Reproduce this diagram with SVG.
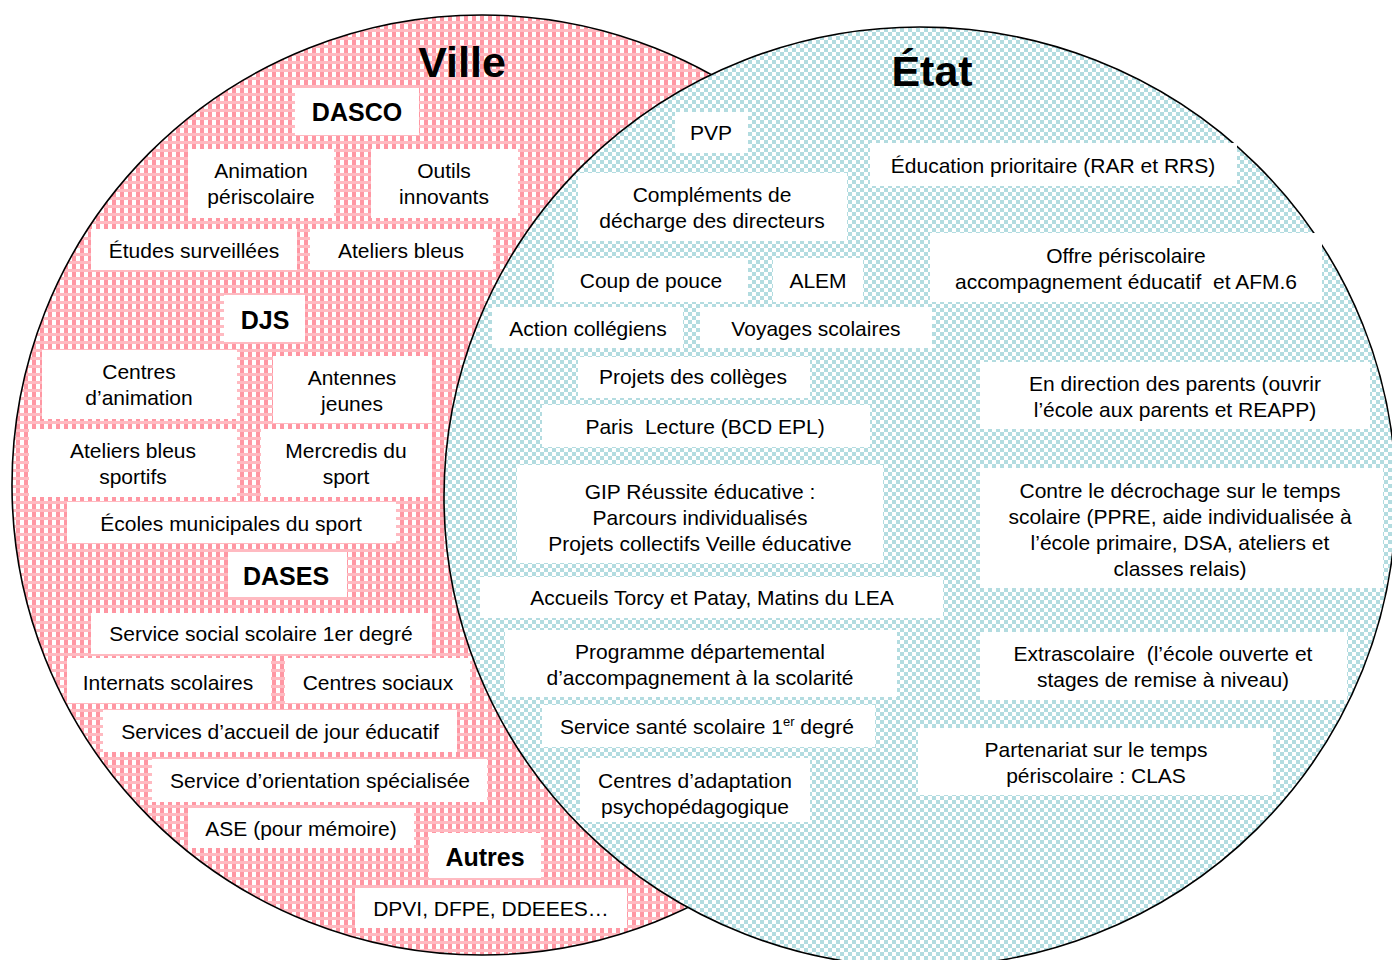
<svg xmlns="http://www.w3.org/2000/svg" width="1392" height="960" viewBox="0 0 1392 960">
<defs>
<pattern id="pink" width="8" height="8" patternUnits="userSpaceOnUse">
<rect width="8" height="8" fill="#ffffff"/>
<rect width="4" height="8" fill="#ff97a3"/>
<rect y="5" width="8" height="3" fill="#ffbac1"/>
</pattern>
<pattern id="blue" width="8" height="8" patternUnits="userSpaceOnUse">
<rect width="8" height="8" fill="#ffffff"/>
<rect width="4" height="4" fill="#b3dce0"/>
<rect x="4" y="4" width="4" height="4" fill="#b3dce0"/>
</pattern>
<style>
.b{fill:#ffffff;stroke:none}
.t{font-family:"Liberation Sans",Arial,sans-serif;font-size:21px;fill:#000;text-anchor:middle;white-space:pre}
.h{font-family:"Liberation Sans",Arial,sans-serif;font-size:25px;font-weight:bold;fill:#000;text-anchor:middle}
.title{font-family:"Liberation Sans",Arial,sans-serif;font-size:43px;font-weight:bold;fill:#000;text-anchor:middle}
.sets{stroke:#000;stroke-width:1.6}
</style>
</defs>
<rect width="1392" height="960" fill="#ffffff"/>
<g id="sets">
<ellipse id="ville-set" class="sets" cx="482" cy="485" rx="470" ry="470" fill="url(#pink)"/>
<ellipse id="etat-set" class="sets" cx="920" cy="497" rx="476" ry="470" fill="url(#blue)"/>
</g>
<g id="titles">
<text class="title" x="462" y="77">Ville</text>
<text class="title" x="932" y="86">État</text>
</g>
<g id="n-dasco"><rect class="b" x="295" y="88" width="124" height="47"/><text class="h" x="357" y="121">DASCO</text></g>
<g id="n-animation"><rect class="b" x="188" y="149" width="146" height="69"/><text class="t" x="261" y="178">Animation</text><text class="t" x="261" y="204">périscolaire</text></g>
<g id="n-outils"><rect class="b" x="371" y="149" width="147" height="69"/><text class="t" x="444" y="178">Outils</text><text class="t" x="444" y="204">innovants</text></g>
<g id="n-etudes"><rect class="b" x="91" y="229" width="206" height="41"/><text class="t" x="194" y="258">Études surveillées</text></g>
<g id="n-ateliers"><rect class="b" x="310" y="229" width="183" height="41"/><text class="t" x="401" y="258">Ateliers bleus</text></g>
<g id="n-djs"><rect class="b" x="224" y="295" width="81" height="47"/><text class="h" x="265" y="329">DJS</text></g>
<g id="n-centres-anim"><rect class="b" x="42" y="350" width="195" height="69"/><text class="t" x="139" y="379">Centres</text><text class="t" x="139" y="405">d’animation</text></g>
<g id="n-antennes"><rect class="b" x="273" y="356" width="159" height="67"/><text class="t" x="352" y="385">Antennes</text><text class="t" x="352" y="411">jeunes</text></g>
<g id="n-ateliers-sport"><rect class="b" x="29" y="429" width="208" height="68"/><text class="t" x="133" y="458">Ateliers bleus</text><text class="t" x="133" y="484">sportifs</text></g>
<g id="n-mercredis"><rect class="b" x="261" y="429" width="171" height="68"/><text class="t" x="346" y="458">Mercredis du</text><text class="t" x="346" y="484">sport</text></g>
<g id="n-ecoles"><rect class="b" x="67" y="502" width="329" height="41"/><text class="t" x="231" y="531">Écoles municipales du sport</text></g>
<g id="n-dases"><rect class="b" x="228" y="552" width="119" height="45"/><text class="h" x="286" y="585">DASES</text></g>
<g id="n-social"><rect class="b" x="91" y="613" width="341" height="41"/><text class="t" x="261" y="641">Service social scolaire 1er degré</text></g>
<g id="n-internats"><rect class="b" x="67" y="658" width="204" height="45"/><text class="t" x="168" y="690">Internats scolaires</text></g>
<g id="n-centres-sociaux"><rect class="b" x="285" y="658" width="185" height="45"/><text class="t" x="378" y="690">Centres sociaux</text></g>
<g id="n-accueil-jour"><rect class="b" x="103" y="710" width="354" height="42"/><text class="t" x="280" y="739">Services d’accueil de jour éducatif</text></g>
<g id="n-orientation"><rect class="b" x="152" y="759" width="335" height="43"/><text class="t" x="320" y="788">Service d’orientation spécialisée</text></g>
<g id="n-ase"><rect class="b" x="188" y="808" width="226" height="40"/><text class="t" x="301" y="836">ASE (pour mémoire)</text></g>
<g id="n-autres"><rect class="b" x="429" y="833" width="112" height="45"/><text class="h" x="485" y="866">Autres</text></g>
<g id="n-dpvi"><rect class="b" x="355" y="888" width="272" height="40"/><text class="t" x="491" y="916">DPVI, DFPE, DDEEES…</text></g>
<g id="n-pvp"><rect class="b" x="675" y="112" width="73" height="41"/><text class="t" x="711" y="140">PVP</text></g>
<g id="n-complements"><rect class="b" x="578" y="173" width="269" height="68"/><text class="t" x="712" y="202">Compléments de</text><text class="t" x="712" y="228">décharge des directeurs</text></g>
<g id="n-coup"><rect class="b" x="554" y="258" width="194" height="44"/><text class="t" x="651" y="288">Coup de pouce</text></g>
<g id="n-alem"><rect class="b" x="773" y="258" width="90" height="44"/><text class="t" x="818" y="288">ALEM</text></g>
<g id="n-action"><rect class="b" x="492" y="307" width="191" height="41"/><text class="t" x="588" y="336">Action collégiens</text></g>
<g id="n-voyages"><rect class="b" x="700" y="307" width="232" height="41"/><text class="t" x="816" y="336">Voyages scolaires</text></g>
<g id="n-education"><rect class="b" x="870" y="143" width="367" height="43"/><text class="t" x="1053" y="173">Éducation prioritaire (RAR et RRS)</text></g>
<g id="n-offre"><rect class="b" x="930" y="233" width="392" height="69"/><text class="t" x="1126" y="263">Offre périscolaire</text><text class="t" x="1126" y="289">accompagnement éducatif  et AFM.6</text></g>
<g id="n-projets"><rect class="b" x="578" y="357" width="232" height="41"/><text class="t" x="693" y="384">Projets des collèges</text></g>
<g id="n-paris"><rect class="b" x="542" y="405" width="328" height="42"/><text class="t" x="705" y="434">Paris  Lecture (BCD EPL)</text></g>
<g id="n-gip"><rect class="b" x="517" y="465" width="366" height="98"/><text class="t" x="700" y="499">GIP Réussite éducative :</text><text class="t" x="700" y="525">Parcours individualisés</text><text class="t" x="700" y="551">Projets collectifs Veille éducative</text></g>
<g id="n-accueils"><rect class="b" x="480" y="577" width="463" height="41"/><text class="t" x="712" y="605">Accueils Torcy et Patay, Matins du LEA</text></g>
<g id="n-programme"><rect class="b" x="505" y="630" width="392" height="67"/><text class="t" x="700" y="659">Programme départemental</text><text class="t" x="700" y="685">d’accompagnement à la scolarité</text></g>
<g id="n-sante"><rect class="b" x="542" y="705" width="333" height="42"/><text class="t" x="707" y="734">Service santé scolaire 1<tspan font-size="13" dy="-8">er</tspan><tspan dy="8"> degré</tspan></text></g>
<g id="n-cap"><rect class="b" x="580" y="758" width="230" height="64"/><text class="t" x="695" y="788">Centres d’adaptation</text><text class="t" x="695" y="814">psychopédagogique</text></g>
<g id="n-parents"><rect class="b" x="980" y="362" width="390" height="67"/><text class="t" x="1175" y="391">En direction des parents (ouvrir</text><text class="t" x="1175" y="417">l’école aux parents et REAPP)</text></g>
<g id="n-decrochage"><rect class="b" x="980" y="468" width="403" height="120"/><text class="t" x="1180" y="498">Contre le décrochage sur le temps</text><text class="t" x="1180" y="524">scolaire (PPRE, aide individualisée à</text><text class="t" x="1180" y="550">l’école primaire, DSA, ateliers et</text><text class="t" x="1180" y="576">classes relais)</text></g>
<g id="n-extra"><rect class="b" x="980" y="632" width="367" height="68"/><text class="t" x="1163" y="661">Extrascolaire  (l’école ouverte et</text><text class="t" x="1163" y="687">stages de remise à niveau)</text></g>
<g id="n-partenariat"><rect class="b" x="918" y="728" width="355" height="67"/><text class="t" x="1096" y="757">Partenariat sur le temps</text><text class="t" x="1096" y="783">périscolaire : CLAS</text></g>
</svg>
